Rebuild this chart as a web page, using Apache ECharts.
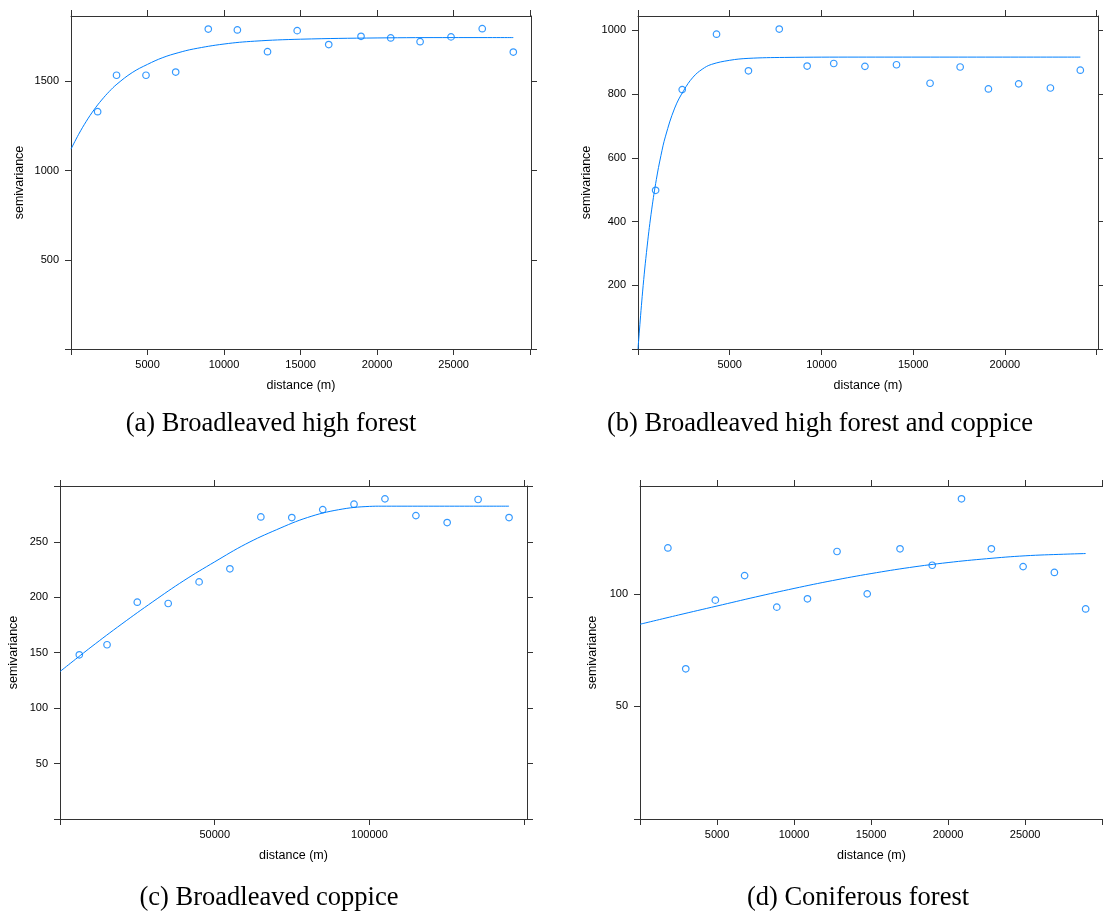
<!DOCTYPE html>
<html>
<head>
<meta charset="utf-8">
<title>semivariance</title>
<script src="https://cdn.jsdelivr.net/npm/echarts@6/dist/echarts.min.js"></script>
<style>
html, body { margin: 0; padding: 0; background: #fff; }
#chart { width: 1103px; height: 913px; }
</style>
</head>
<body>
<div id="chart"></div>
<script>
// (a) Broadleaved high forest
var aDist = [1740, 2975, 4900, 6840, 8970, 10870, 12840, 14780, 16840, 18950, 20890, 22810, 24830, 26870, 28900];
var aGamma = [1330, 1534, 1534, 1552, 1793, 1788, 1666, 1784, 1706, 1752, 1743, 1722, 1749, 1795, 1664];
var aFitDist = [0, 500, 1000, 1500, 2000, 2500, 3000, 4000, 5000, 6000, 7000, 8000, 10000, 12000, 15000, 20000, 25000, 28900];
var aFitGamma = [1120, 1203, 1276, 1340, 1395, 1443, 1484, 1549, 1595, 1633, 1660, 1681, 1709, 1725, 1736, 1743, 1745, 1745];
var aXTicks = [0, 5000, 10000, 15000, 20000, 25000, 30000];
var aXLabels = [5000, 10000, 15000, 20000, 25000];
var aYTicks = [0, 500, 1000, 1500];
var aYLabels = [500, 1000, 1500];

// (b) Broadleaved high forest and coppice
var bDist = [960, 2410, 4280, 6020, 7700, 9220, 10670, 12370, 14090, 15920, 17560, 19100, 20750, 22480, 24110];
var bGamma = [498, 814, 988, 873, 1004, 888, 896, 887, 892, 834, 885, 816, 832, 819, 875];
var bFitDist = [0, 250, 500, 750, 1000, 1250, 1500, 2000, 2500, 3000, 3500, 4000, 5000, 6000, 8000, 12000, 24110];
var bFitGamma = [0, 179, 323, 439, 532, 607, 668, 756, 812, 853, 878, 893, 906, 912, 915, 916, 916];
var bXTicks = [0, 5000, 10000, 15000, 20000, 25000];
var bXLabels = [5000, 10000, 15000, 20000];
var bYTicks = [0, 200, 400, 600, 800, 1000];
var bYLabels = [200, 400, 600, 800, 1000];

// (c) Broadleaved coppice
var cDist = [6240, 15200, 24970, 34960, 44950, 54900, 64900, 74900, 84900, 95000, 105000, 115000, 125100, 135100, 145100];
var cGamma = [148.1, 157.2, 195.6, 194.4, 213.9, 225.7, 272.5, 271.9, 279.1, 284.0, 288.8, 273.7, 267.4, 288.2, 271.9];
var cFitDist = [0, 10000, 20000, 30000, 40000, 50000, 60000, 70000, 80000, 90000, 100000, 104000, 145100];
var cFitGamma = [133, 155, 176, 196, 215, 232, 248, 261, 272, 279, 282, 282.2, 282.2];
var cXTicks = [0, 50000, 100000, 150000];
var cXLabels = [50000, 100000];
var cYTicks = [0, 50, 100, 150, 200, 250, 300];
var cYLabels = [50, 100, 150, 200, 250];

// (d) Coniferous forest
var dDist = [1810, 2970, 4890, 6790, 8880, 10870, 12790, 14750, 16880, 18970, 20870, 22810, 24870, 26900, 28930];
var dGamma = [120.4, 66.7, 97.2, 108.1, 94.1, 97.8, 118.8, 100.0, 120.0, 112.7, 142.2, 120.0, 112.1, 109.5, 93.3];
var dFitDist = [0, 2500, 5000, 7500, 10000, 12500, 15000, 17500, 20000, 22500, 25000, 27500, 28930];
var dFitGamma = [86.5, 90.6, 94.6, 98.6, 102.4, 105.9, 109, 111.7, 113.9, 115.6, 116.9, 117.6, 117.9];
var dXTicks = [0, 5000, 10000, 15000, 20000, 25000, 30000];
var dXLabels = [5000, 10000, 15000, 20000, 25000];
var dYTicks = [0, 50, 100];
var dYLabels = [50, 100];

var captions = ['(a) Broadleaved high forest', '(b) Broadleaved high forest and coppice',
    '(c) Broadleaved coppice', '(d) Coniferous forest'];

var frameColor = '#333';
var pointColor = '#0080ff';
var sans = '"Liberation Sans", Arial, sans-serif';

function zip(xs, ys) {
    var out = [];
    for (var i = 0; i < xs.length; i++) {
        out.push([xs[i], ys[i]]);
    }
    return out;
}

// 不要千位分隔符
function plain(v) {
    return String(v);
}

var panels = [
    {grid: {left: 71, top: 16, width: 460, height: 333}, xMax: 30056, yMax: 1866, yGap: 45,
        xTicks: aXTicks, xLabels: aXLabels, yTicks: aYTicks, yLabels: aYLabels,
        pts: zip(aDist, aGamma), fit: zip(aFitDist, aFitGamma), cap: [271, 424]},
    {grid: {left: 638, top: 16, width: 460, height: 333}, xMax: 25074, yMax: 1045, yGap: 45,
        xTicks: bXTicks, xLabels: bXLabels, yTicks: bYTicks, yLabels: bYLabels,
        pts: zip(bDist, bGamma), fit: zip(bFitDist, bFitGamma), cap: [820, 424]},
    {grid: {left: 60, top: 486, width: 467, height: 333}, xMax: 150900, yMax: 300.4, yGap: 40,
        xTicks: cXTicks, xLabels: cXLabels, yTicks: cYTicks, yLabels: cYLabels,
        pts: zip(cDist, cGamma), fit: zip(cFitDist, cFitGamma), cap: [269, 898]},
    {grid: {left: 640, top: 486, width: 464, height: 333}, xMax: 30056, yMax: 147.9, yGap: 41,
        xTicks: dXTicks, xLabels: dXLabels, yTicks: dYTicks, yLabels: dYLabels,
        pts: zip(dDist, dGamma), fit: zip(dFitDist, dFitGamma), cap: [858, 898]}
];

var grids = [], xAxes = [], yAxes = [], series = [], texts = [];

for (var i = 0; i < panels.length; i++) {
    var p = panels[i];
    grids.push(p.grid);

    var line = {onZero: false, lineStyle: {color: frameColor, width: 1}};
    var label = {margin: 10, fontSize: 11, color: '#000', fontFamily: sans, formatter: plain};

    // 下、上 x 轴
    xAxes.push({
        type: 'value', gridIndex: i, position: 'bottom', min: 0, max: p.xMax,
        axisLine: line,
        axisTick: {length: 6, customValues: p.xTicks, lineStyle: {color: frameColor}},
        axisLabel: Object.assign({customValues: p.xLabels}, label),
        splitLine: {show: false},
        name: 'distance (m)', nameLocation: 'middle', nameGap: 30,
        nameTextStyle: {fontSize: 12.5, color: '#000', fontFamily: sans}
    });
    xAxes.push({
        type: 'value', gridIndex: i, position: 'top', min: 0, max: p.xMax,
        axisLine: line,
        axisTick: {length: 6, customValues: p.xTicks, lineStyle: {color: frameColor}},
        axisLabel: {show: false},
        splitLine: {show: false}
    });

    // 左、右 y 轴
    yAxes.push({
        type: 'value', gridIndex: i, position: 'left', min: 0, max: p.yMax,
        axisLine: line,
        axisTick: {length: 6, customValues: p.yTicks, lineStyle: {color: frameColor}},
        axisLabel: Object.assign({customValues: p.yLabels}, label, {margin: 12}),
        splitLine: {show: false},
        name: 'semivariance', nameLocation: 'middle', nameGap: p.yGap,
        nameTextStyle: {fontSize: 12.5, color: '#000', fontFamily: sans}
    });
    yAxes.push({
        type: 'value', gridIndex: i, position: 'right', min: 0, max: p.yMax,
        axisLine: line,
        axisTick: {length: 6, customValues: p.yTicks, lineStyle: {color: frameColor}},
        axisLabel: {show: false},
        splitLine: {show: false}
    });

    series.push({
        type: 'scatter', xAxisIndex: 2 * i, yAxisIndex: 2 * i,
        data: p.pts, symbol: 'circle', symbolSize: 6.5,
        itemStyle: {color: 'rgba(255,255,255,0)', borderColor: pointColor, borderWidth: 1.2}
    });
    series.push({
        type: 'line', xAxisIndex: 2 * i, yAxisIndex: 2 * i,
        data: p.fit, showSymbol: false, smooth: 0.4,
        lineStyle: {color: pointColor, width: 1}
    });

    texts.push({
        type: 'text', x: p.cap[0], y: p.cap[1],
        style: {text: captions[i], font: '26.5px "Liberation Serif", "Times New Roman", serif',
            fill: '#000', textAlign: 'center', textVerticalAlign: 'middle'}
    });
}

var myChart = echarts.init(document.getElementById('chart'));
myChart.setOption({
    animation: false,
    backgroundColor: '#fff',
    grid: grids,
    xAxis: xAxes,
    yAxis: yAxes,
    series: series,
    graphic: texts
});
</script>
</body>
</html>
